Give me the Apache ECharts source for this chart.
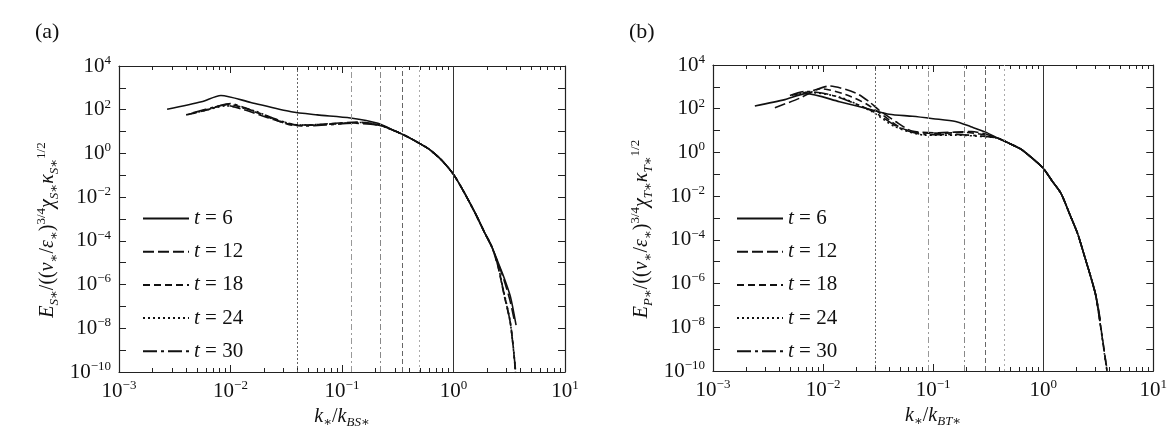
<!DOCTYPE html>
<html>
<head>
<meta charset="utf-8">
<script src="https://cdn.jsdelivr.net/npm/echarts@6/dist/echarts.min.js"></script>
<style>
  html, body { margin: 0; background: #fff; }
  #chart { width: 1170px; height: 435px; }
</style>
</head>
<body>
<div id="chart"></div>
<script>
/* ── Data: normalised spectra, [k / kB, E] pairs ── */
const legendNames = ['t = 6', 't = 12', 't = 18', 't = 24', 't = 30'];

// panel (a): scalar S
const tailA = [[0.3, 10.5], [0.4, 5.3], [0.5, 2.8], [0.6, 1.6], [0.78, 0.5], [1.0, 0.11],
  [1.25, 0.016], [1.57, 1.8e-3], [1.9, 2.4e-4], [2.2, 5.5e-5]];
const a_t6 = [[0.0027, 105], [0.0055, 230], [0.0082, 450], [0.0152, 215], [0.035, 80],
  [0.06, 58], [0.119, 42], [0.21, 24]];
const a_t6_end = [[2.5, 1.1e-5], [2.82, 2.3e-6], [3.24, 2.8e-7], [3.64, 1.4e-8]];
const a_t12 = [[0.004, 58], [0.006, 95], [0.0087, 165], [0.0132, 100], [0.022, 42],
  [0.035, 21], [0.05, 20], [0.075, 23], [0.14, 27], [0.22, 20]];
const a_t12_end = [[2.5, 1.0e-5], [2.82, 1.8e-6], [3.2, 2.0e-7], [3.5, 2.5e-8]];
const a_t18 = [[0.0044, 66], [0.007, 120], [0.0095, 175], [0.014, 110], [0.024, 38],
  [0.038, 19], [0.06, 20], [0.1, 24], [0.16, 25], [0.22, 19]];
const a_t18_end = [[2.5, 7e-6], [2.82, 4e-7], [3.24, 1.7e-8], [3.48, 7e-10], [3.59, 1e-10]];
const a_t24 = [[0.0042, 60], [0.0065, 105], [0.009, 150], [0.016, 92], [0.028, 30],
  [0.042, 20], [0.08, 22], [0.15, 26], [0.22, 19]];
const a_t24_end = [[2.5, 8e-6], [2.82, 5e-7], [3.2, 2.5e-8], [3.45, 1.2e-9], [3.6, 1e-10]];
const a_t30 = [[0.0046, 72], [0.0075, 140], [0.01, 190], [0.015, 100], [0.03, 28],
  [0.045, 18], [0.07, 20], [0.13, 24], [0.22, 19]];
const a_t30_end = [[2.5, 7.5e-6], [2.82, 4.5e-7], [3.22, 2e-8], [3.46, 9e-10], [3.6, 1.2e-10]];

// panel (b): temperature T
const tailB = [[0.39, 4.4], [0.5, 2.5], [0.63, 1.4], [0.79, 0.56], [1.0, 0.19], [1.2, 0.051],
  [1.45, 0.0135], [1.75, 1.4e-3], [2.05, 2e-4], [2.4, 1.5e-5], [2.7, 2.1e-6], [3.0, 3e-7]];
const b_t6 = [[0.0024, 133], [0.0045, 260], [0.007, 490], [0.0141, 210], [0.028, 88],
  [0.04, 56], [0.065, 45], [0.1, 35], [0.16, 26], [0.22, 15], [0.3, 8.5]];
const b_t6_end = [[3.15, 8e-8], [3.28, 2e-8]];
const b_t12 = [[0.00365, 111], [0.0061, 300], [0.0085, 700], [0.0114, 1090], [0.0199, 520],
  [0.0262, 210], [0.0322, 87], [0.0456, 26], [0.0643, 9.5], [0.112, 8], [0.223, 9], [0.3, 7]];
const b_t12_end = [[3.44, 3.7e-9], [3.62, 6e-10], [3.81, 1.1e-10]];
const b_t18 = [[0.0052, 420], [0.0075, 600], [0.0095, 820], [0.016, 450], [0.025, 160],
  [0.035, 50], [0.05, 14], [0.07, 8.2], [0.12, 7.6], [0.2, 8.2], [0.3, 6.2]];
const b_t18_end = [[3.42, 4e-9], [3.63, 5e-10], [3.8, 1e-10]];
const b_t24 = [[0.0055, 420], [0.0072, 560], [0.0141, 340], [0.028, 72], [0.045, 15],
  [0.085, 6.2], [0.16, 6.2], [0.3, 5.2]];
const b_t24_end = [[3.43, 3.5e-9], [3.6, 6e-10], [3.78, 1.2e-10]];
const b_t30 = [[0.005, 400], [0.0068, 620], [0.012, 420], [0.028, 78], [0.05, 13],
  [0.085, 6.5], [0.16, 6.6], [0.3, 5.4]];
const b_t30_end = [[3.15, 9e-8], [3.3, 2.2e-8]];

// vertical marker lines
const vlinesA = [0.0365, 0.118, 0.22, 0.35, 0.495, 1.0];
const vlinesB = [0.028, 0.094, 0.188, 0.302, 0.438, 1.0];

/* ── Styles ─────────────────────────────────────────────── */
const SERIF = 'Liberation Serif, DejaVu Serif, serif';
const dashes = ['solid', [11, 4], [7, 4], [2, 3], [14, 4, 3, 4]];
const vlineDash = [[2, 2], [6, 3, 2, 3], [6, 3, 2, 3], [5, 3], [2, 3], 'solid'];
const vlineColor = ['#666', '#999', '#888', '#666', '#aaa', '#333'];

const tickRich = {
  b: { fontFamily: SERIF, fontSize: 21, color: '#111', lineHeight: 24 },
  s: { fontFamily: SERIF, fontSize: 13, color: '#111', verticalAlign: 'top', lineHeight: 13 }
};
function powLabel(v, every) {
  const e = Math.round(Math.log10(v));
  if (e % every !== 0) return '';
  return '{b|10}{s|' + (e < 0 ? '\u2212' : '') + Math.abs(e) + '}';
}

const nameRich = {
  i: { fontFamily: SERIF, fontStyle: 'italic', fontSize: 20, color: '#111', lineHeight: 26 },
  n: { fontFamily: SERIF, fontSize: 20, color: '#111', lineHeight: 26 },
  sb: { fontFamily: SERIF, fontStyle: 'italic', fontSize: 13, color: '#111', verticalAlign: 'bottom', lineHeight: 13 },
  sp: { fontFamily: SERIF, fontSize: 13, color: '#111', verticalAlign: 'top', lineHeight: 13 }
};
function yName(e, c) {
  return '{i|E}{sb|' + e + '\u2217}{n|/((}{i|\u03bd}{sb|\u2217}{n|/}{i|\u03b5}{sb|\u2217}{n|)}{sp|3/4}' +
    '{i|\u03c7}{sb|' + c + '\u2217}{i|\u03ba}{sb|' + c + '\u2217}{sp|1/2}';
}
function xName(c) {
  return '{i|k}{sb|\u2217}{n|/}{i|k}{sb|B' + c + '\u2217}';
}

const tickLine = { color: '#222', width: 1 };

function xAxisDef(grid, pos, name) {
  return {
    type: 'log', logBase: 10, gridIndex: grid, position: pos, min: 1e-3, max: 10,
    axisLine: { show: true, onZero: false, lineStyle: { color: '#222', width: 1.2 } },
    axisTick: { show: true, inside: true, length: 7, lineStyle: tickLine },
    minorTick: { show: true, splitNumber: 9, length: 4, lineStyle: tickLine },
    splitLine: { show: false },
    axisLabel: { show: pos === 'bottom', margin: 7, formatter: v => powLabel(v, 1), rich: tickRich },
    name: pos === 'bottom' ? name : '', nameLocation: 'middle', nameGap: 30,
    nameTextStyle: { rich: nameRich }
  };
}
function yAxisDef(grid, pos, name) {
  return {
    type: 'log', logBase: 10, gridIndex: grid, position: pos, min: 1e-10, max: 1e4, interval: 1,
    axisLine: { show: true, onZero: false, lineStyle: { color: '#222', width: 1.2 } },
    axisTick: { show: true, inside: true, length: 7, lineStyle: tickLine },
    splitLine: { show: false },
    axisLabel: { show: pos === 'left', margin: 8, formatter: v => powLabel(v, 2), rich: tickRich },
    name: pos === 'left' ? name : '', nameLocation: 'middle', nameGap: 58, nameRotate: 90,
    nameTextStyle: { rich: nameRich, padding: [0, 22, 0, 0] }
  };
}

function curves(list, xi, yi) {
  return list.map((d, i) => ({
    name: legendNames[i], type: 'line', xAxisIndex: xi, yAxisIndex: yi,
    data: d, symbol: 'none', showSymbol: false, smooth: 0.25, animation: false,
    color: '#111',
    lineStyle: { color: '#111', width: 1.6, type: dashes[i] }
  }));
}
function vlines(list, xi, yi) {
  return {
    type: 'line', xAxisIndex: xi, yAxisIndex: yi, data: [], animation: false,
    markLine: {
      silent: true, symbol: ['none', 'none'], label: { show: false }, animation: false,
      data: list.map((v, i) => ({
        xAxis: v, lineStyle: { color: vlineColor[i], width: 1, type: vlineDash[i] }
      }))
    }
  };
}

const seriesA = [a_t6.concat(tailA, a_t6_end), a_t12.concat(tailA, a_t12_end),
  a_t18.concat(tailA, a_t18_end), a_t24.concat(tailA, a_t24_end), a_t30.concat(tailA, a_t30_end)];
const seriesB = [b_t6.concat(tailB, b_t6_end), b_t12.concat(tailB, b_t12_end),
  b_t18.concat(tailB, b_t18_end), b_t24.concat(tailB, b_t24_end), b_t30.concat(tailB, b_t30_end)];

const legendBase = {
  data: legendNames, orient: 'vertical', itemWidth: 46, itemHeight: 14, itemGap: 12.2,
  selectedMode: false,
  itemStyle: { opacity: 0 },
  formatter: n => n.replace('t', '{i|t}'),
  textStyle: {
    fontFamily: SERIF, fontSize: 21, color: '#111',
    rich: { i: { fontFamily: SERIF, fontStyle: 'italic', fontSize: 21, color: '#111' } }
  }
};

const chart = echarts.init(document.getElementById('chart'), null, { renderer: 'canvas' });
chart.setOption({
  backgroundColor: '#fff',
  animation: false,
  title: [
    { text: '(a)', left: 30, top: 16, textStyle: { fontFamily: SERIF, fontSize: 22, fontWeight: 'normal', color: '#111' } },
    { text: '(b)', left: 624, top: 16, textStyle: { fontFamily: SERIF, fontSize: 22, fontWeight: 'normal', color: '#111' } }
  ],
  grid: [
    { left: 119, top: 66, width: 446, height: 306, show: false },
    { left: 713, top: 65, width: 444, height: 306, show: false }
  ],
  xAxis: [
    xAxisDef(0, 'bottom', xName('S')), xAxisDef(0, 'top', ''),
    xAxisDef(1, 'bottom', xName('T')), xAxisDef(1, 'top', '')
  ],
  yAxis: [
    yAxisDef(0, 'left', yName('S', 'S')), yAxisDef(0, 'right', ''),
    yAxisDef(1, 'left', yName('P', 'T')), yAxisDef(1, 'right', '')
  ],
  legend: [
    Object.assign({ left: 137, top: 203 }, legendBase),
    Object.assign({ left: 731, top: 203 }, legendBase)
  ],
  series: [
    vlines(vlinesA, 0, 0), vlines(vlinesB, 2, 2),
    ...curves(seriesA, 0, 0),
    ...curves(seriesB, 2, 2)
  ]
});
</script>
</body>
</html>
